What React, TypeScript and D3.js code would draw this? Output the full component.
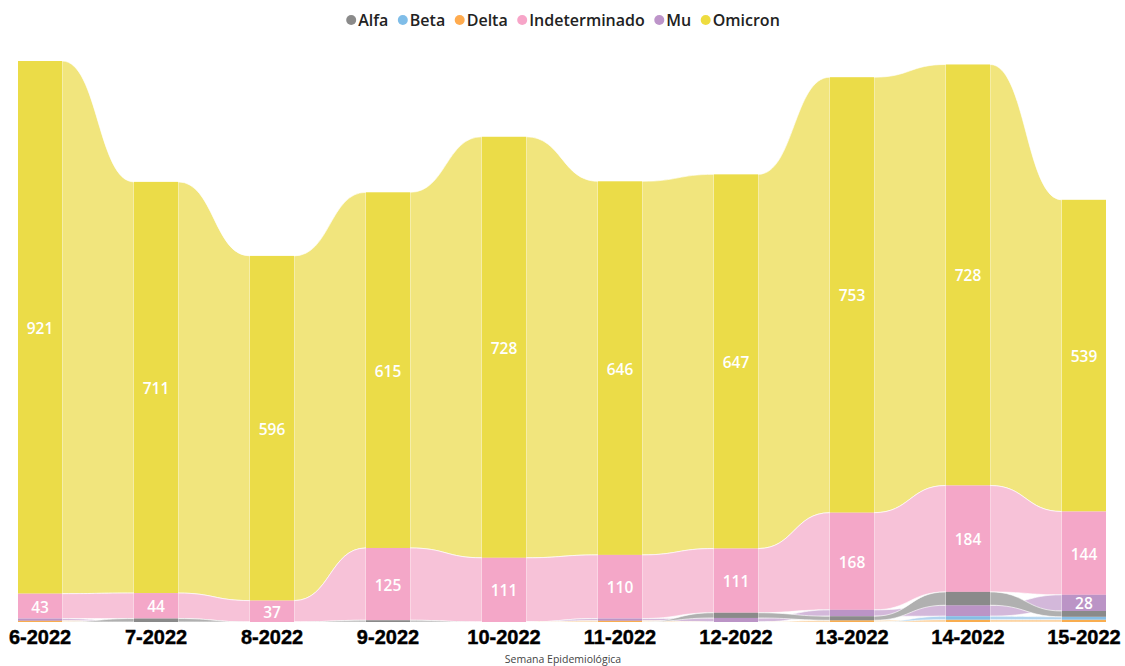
import React, { useEffect, useRef } from "react";
import * as d3 from "d3";

const weeks = ["6-2022", "7-2022", "8-2022", "9-2022", "10-2022", "11-2022", "12-2022", "13-2022", "14-2022", "15-2022"];
const omicron = [921, 711, 596, 615, 728, 646, 647, 753, 728, 539];
const indeterminado = [43, 44, 37, 125, 111, 110, 111, 168, 184, 144];
const alfa = [0, 6, 0, 3, 0, 0, 9, 7, 23, 10];
const mu = [4, 0, 0, 0, 0, 4, 7, 11, 19, 28];
const beta = [0, 0, 0, 0, 0, 0, 0, 0, 6, 5];
const delta = [2, 0, 0, 0, 0, 2, 0, 3, 4, 4];

const legendOrder = ["Alfa", "Beta", "Delta", "Indeterminado", "Mu", "Omicron"];

type Serie = { name: string; values: number[]; col: string; rib: string; dot: string };

const series: Serie[] = [
	{ name: "Omicron", values: omicron, col: "#ebdc48", rib: "#f1e57d", dot: "#eedc3f" },
	{ name: "Indeterminado", values: indeterminado, col: "#f4a7c8", rib: "#f7c2d8", dot: "#f7a5c8" },
	{ name: "Mu", values: mu, col: "#bb94c6", rib: "#d3b8da", dot: "#bd94c9" },
	{ name: "Delta", values: delta, col: "#f9ad4f", rib: "#fccb8f", dot: "#ffab4e" },
	{ name: "Beta", values: beta, col: "#86bde5", rib: "#b3d5ef", dot: "#7fbde8" },
	{ name: "Alfa", values: alfa, col: "#8a8a8a", rib: "#b0b0b0", dot: "#8a8a8a" },
];

const W = 1125;
const H = 666;

export default function App() {
	const ref = useRef<SVGSVGElement | null>(null);

	useEffect(() => {
		if (!ref.current) return;
		const svg = d3.select(ref.current);
		svg.selectAll("*").remove();

		const x = d3.scaleBand<string>().domain(weeks).range([18, 1106]).paddingInner(0.62).paddingOuter(0);
		const y = d3.scaleLinear().domain([0, 970]).range([622, 61]);
		const bw = x.bandwidth();

		// stack positions per week: biggest on top
		const pos: Record<string, { y0: number; y1: number }[]> = {};
		series.forEach((s) => (pos[s.name] = []));
		weeks.forEach((w, i) => {
			const sorted = [...series].sort((a, b) => a.values[i] - b.values[i]);
			let acc = 0;
			sorted.forEach((s) => {
				const v = s.values[i];
				pos[s.name][i] = { y0: y(acc), y1: y(acc + v) };
				acc += v;
			});
		});

		const curve = (x1: number, y1: number, x2: number, y2: number) => {
			const m = (x1 + x2) / 2;
			return `C${m},${y1} ${m},${y2} ${x2},${y2}`;
		};

		const ribbons = svg.append("g");
		series.forEach((s) => {
			for (let i = 0; i < weeks.length - 1; i++) {
				if (s.values[i] === 0 && s.values[i + 1] === 0) continue;
				const xa = (x(weeks[i]) as number) + bw;
				const xb = x(weeks[i + 1]) as number;
				const a = pos[s.name][i];
				const b = pos[s.name][i + 1];
				const d =
					`M${xa},${a.y1}` +
					curve(xa, a.y1, xb, b.y1) +
					`L${xb},${b.y0}` +
					curve(xb, b.y0, xa, a.y0) +
					"Z";
				ribbons
					.append("path")
					.attr("d", d)
					.attr("fill", s.rib)
					.attr("stroke", "#fff")
					.attr("stroke-width", 0.8)
					.attr("stroke-opacity", 0.8);
			}
		});

		const cols = svg.append("g");
		series.forEach((s) => {
			weeks.forEach((w, i) => {
				if (s.values[i] === 0) return;
				const p = pos[s.name][i];
				cols
					.append("rect")
					.attr("x", x(w) as number)
					.attr("y", p.y1)
					.attr("width", bw)
					.attr("height", p.y0 - p.y1)
					.attr("fill", s.col);
			});
		});

		const labels = svg
			.append("g")
			.attr("font-family", "'Open Sans', sans-serif")
			.attr("font-size", 15.5)
			.attr("font-weight", 600)
			.attr("fill", "#fff")
			.attr("text-anchor", "middle");
		series.forEach((s) => {
			weeks.forEach((w, i) => {
				const p = pos[s.name][i];
				if (p.y0 - p.y1 < 15) return;
				labels
					.append("text")
					.attr("x", (x(w) as number) + bw / 2)
					.attr("y", (p.y0 + p.y1) / 2 + 1)
					.attr("dy", "0.35em")
					.text(s.values[i]);
			});
		});

		// x axis labels
		svg
			.append("g")
			.attr("font-family", "'Liberation Sans', Arial, sans-serif")
			.attr("font-weight", "bold")
			.attr("font-size", 20)
			.attr("text-anchor", "middle")
			.selectAll("text")
			.data(weeks)
			.join("text")
			.attr("x", (d) => (x(d) as number) + bw / 2)
			.attr("y", 644)
			.attr("fill", "#000")
			.attr("stroke", "#000")
			.attr("stroke-width", 0.4)
			.text((d) => d);

		svg
			.append("text")
			.attr("x", 563)
			.attr("y", 663)
			.attr("text-anchor", "middle")
			.attr("font-family", "'Open Sans', sans-serif")
			.attr("font-size", 10.5)
			.attr("fill", "#444")
			.text("Semana Epidemiológica");

		// legend
		const lg = svg.append("g").attr("font-family", "'Open Sans', sans-serif").attr("font-size", 16).attr("font-weight", 600);
		let cx = 0;
		legendOrder.forEach((name) => {
			const s = series.find((d) => d.name === name)!;
			const g = lg.append("g").attr("transform", `translate(${cx},0)`);
			g.append("circle").attr("cx", 0).attr("cy", 20).attr("r", 5).attr("fill", s.dot);
			const t = g.append("text").attr("x", 7).attr("y", 26).attr("fill", "#222").text(name);
			const tw = (t.node() as SVGTextElement).getComputedTextLength();
			cx += 7 + tw + 14.5;
		});
		const total = cx - 14.5 + 5;
		lg.attr("transform", `translate(${563 - total / 2 + 5},0)`);
	}, []);

	return (
		<svg
			ref={ref}
			width={W}
			height={H}
			style={{ position: "absolute", left: 0, top: 0, background: "#fff" }}
		/>
	);
}
